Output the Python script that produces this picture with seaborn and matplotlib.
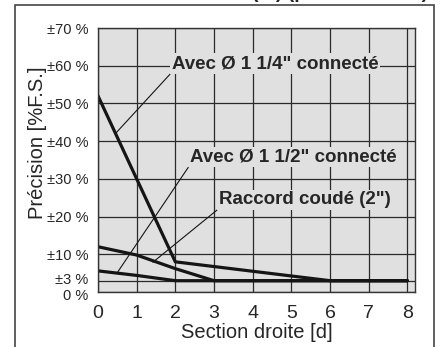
import pandas as pd
import seaborn as sns
import matplotlib.pyplot as plt
import matplotlib.transforms as mtransforms
from matplotlib.patches import Rectangle

# valeurs
x_14 = [0, 2, 6, 8]
y_14 = [52, 8, 3, 3]
x_12 = [0, 1, 2, 3, 8]
y_12 = [12, 9.8, 6.2, 3, 3]
x_coude = [0, 1, 2, 8]
y_coude = [5.6, 4.4, 3, 3]

noms = ['Avec Ø 1 1/4" connecté', 'Avec Ø 1 1/2" connecté', 'Raccord coudé (2")']
y_ticks = [0, 3, 10, 20, 30, 40, 50, 60, 70]
y_labels = ['0 %', '±3 %', '±10 %', '±20 %', '±30 %', '±40 %', '±50 %', '±60 %', '±70 %']
x_ticks = [0, 1, 2, 3, 4, 5, 6, 7, 8]

df = pd.concat([
    pd.DataFrame({'d': x_14, 'precision': y_14, 'serie': noms[0]}),
    pd.DataFrame({'d': x_12, 'precision': y_12, 'serie': noms[1]}),
    pd.DataFrame({'d': x_coude, 'precision': y_coude, 'serie': noms[2]}),
])

sns.set_style('white')
plt.rcParams['font.family'] = ['Liberation Sans', 'DejaVu Sans']

fig = plt.figure(figsize=(4.43, 3.47), dpi=100)
ax = fig.add_axes([98/443, 1-292/347, 317/443, 264/347])
ax.set_facecolor('#e0e0e1')

sns.lineplot(data=df, x='d', y='precision', hue='serie',
             palette=['#151515'] * 3, linewidth=2.3, legend=False, ax=ax)

ax.set_xlim(0, 8.2)
ax.set_ylim(0, 70)
ax.set_xticks(x_ticks)
ax.set_yticks(y_ticks)
ax.set_yticklabels(y_labels, fontsize=10.5)
ax.set_xticklabels([str(t) for t in x_ticks], fontsize=14)
ax.tick_params(axis='y', length=0, pad=7)
ax.tick_params(axis='x', length=0, pad=9)
ax.grid(True, color='#2a2a2a', linewidth=0.9)
ax.set_axisbelow(True)
for s in ax.spines.values():
    s.set_color('#333333')
    s.set_linewidth(1)

# écarter un peu les étiquettes 0 % et ±3 %
yl = ax.get_yticklabels()
yl[0].set_transform(yl[0].get_transform() + mtransforms.ScaledTranslation(0, -3/100, fig.dpi_scale_trans))
yl[1].set_transform(yl[1].get_transform() + mtransforms.ScaledTranslation(0, 2/100, fig.dpi_scale_trans))

ax.set_xlabel('Section droite [d]', fontsize=14.5, va='center')
ax.set_ylabel('Précision [%F.S.]', fontsize=14.5, va='center')
ax.xaxis.set_label_coords(0.5, -0.155)
ax.yaxis.set_label_coords(-0.19, 0.564)

# étiquettes avec traits de rappel
fond = dict(boxstyle='square,pad=0.1', facecolor='#e0e0e1', edgecolor='none')
fleche = dict(arrowstyle='-', color='#151515', lw=0.8, shrinkA=0, shrinkB=0, relpos=(0, 0))
ax.annotate(noms[0], xy=(0.45, 42), xytext=(4.58, 60.5), ha='center', va='center',
            fontsize=13.5, fontweight='bold', bbox=fond, arrowprops=fleche)
ax.annotate(noms[1], xy=(0.49, 5.0), xytext=(5.04, 35.8), ha='center', va='center',
            fontsize=13.5, fontweight='bold', bbox=fond, arrowprops=fleche)
ax.annotate(noms[2], xy=(1.42, 7.9), xytext=(5.35, 24.4), ha='center', va='center',
            fontsize=13.5, fontweight='bold', bbox=fond, arrowprops=fleche)

# cadre extérieur et titre coupé
fig.patches.append(Rectangle((15/443, -0.2), 419/443, 1.2 - 5/347, transform=fig.transFigure,
                             fill=False, edgecolor='#444444', linewidth=1.2))
fig.text(428/443, 1 + 1.5/347, 'Précision (%) (pleine échelle)', ha='right', va='baseline',
         fontsize=14, fontweight='bold')

fig.savefig('out.png', dpi=100)
